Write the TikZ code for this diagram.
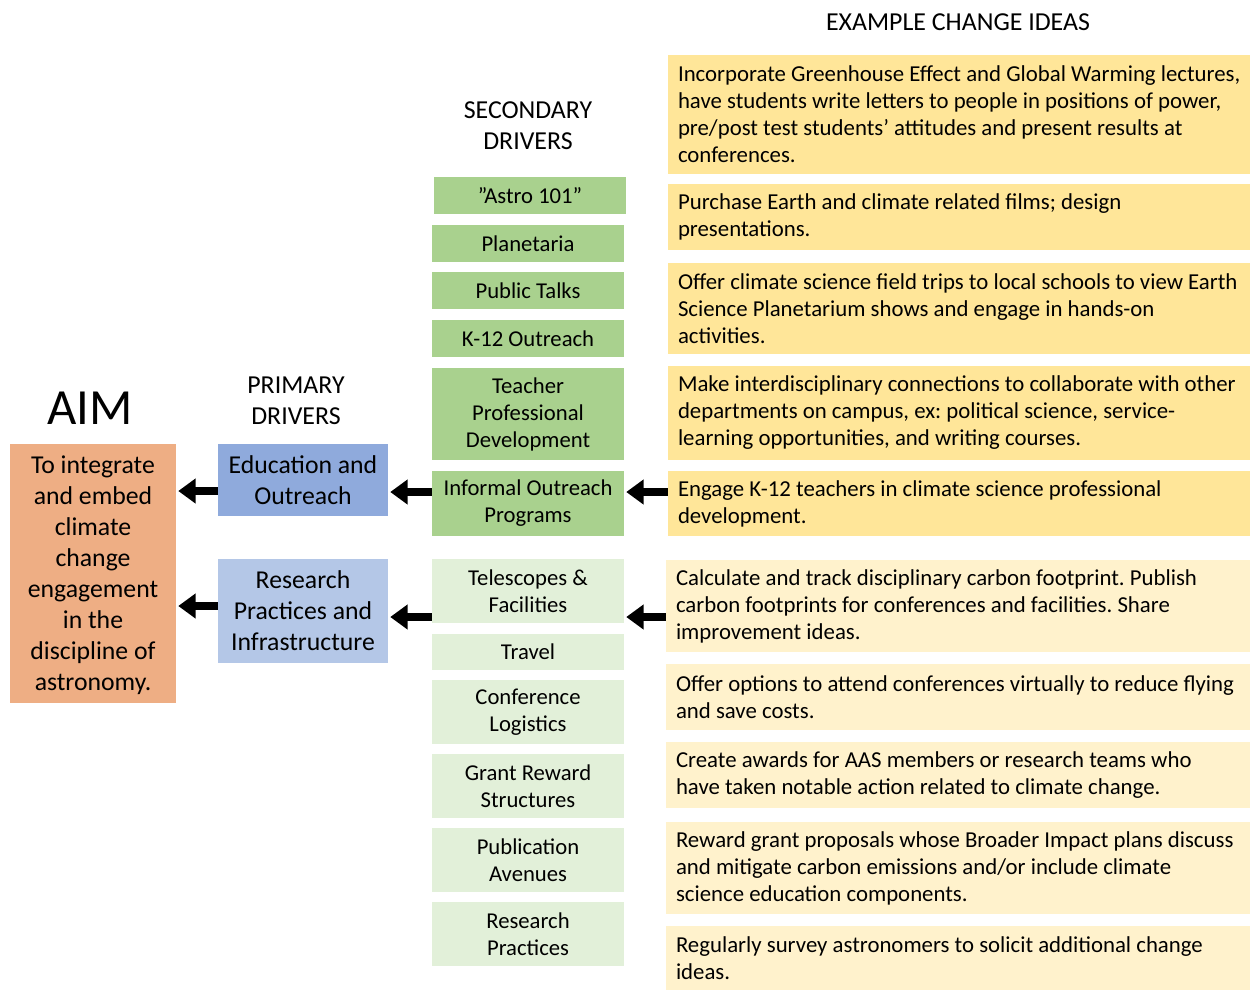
\documentclass[tikz,border=0pt]{standalone}
\usepackage{fontspec}
\setmainfont{Carlito}
\usetikzlibrary{arrows.meta}
\definecolor{aimc}{HTML}{EEAE84}
\definecolor{pri1}{HTML}{8FAADC}
\definecolor{pri2}{HTML}{B4C7E7}
\definecolor{sec1}{HTML}{A9D18E}
\definecolor{sec2}{HTML}{E2F0D9}
\definecolor{idea1}{HTML}{FFE699}
\definecolor{idea2}{HTML}{FFF2CC}
\frenchspacing
\begin{document}
\begin{tikzpicture}[x=0.75pt,y=-0.75pt,
  bigfont/.style={font=\fontsize{19.3}{23.25}\selectfont},
  smallfont/.style={font=\fontsize{17}{20.25}\selectfont},
  ideafont/.style={font=\fontsize{17.1}{20.25}\selectfont},
  rect/.style n args={4}{minimum width={(#3-#1)*0.75pt}, minimum height={(#4-#2)*0.75pt}, at={({(#1+#3)/2},{(#2+#4)/2})}},
  aimbox/.style={inner sep=0pt, fill=aimc, align=center, text depth=0pt, bigfont},
  pribox/.style={inner sep=0pt, fill=#1, align=center, bigfont},
  secbox/.style={inner sep=0pt, fill=#1, align=center, smallfont},
  ideabox/.style={inner sep=0pt, fill=#1},
  ideatext/.style={inner sep=0pt, anchor=west, align=left, ideafont},
  header/.style={inner sep=0pt, align=center, font=\fontsize{19.4}{23.25}\selectfont},
  bigarrow/.style={line width=6pt, -{Triangle[length=13pt,width=18pt]}, shorten >=1.5pt}]
\useasboundingbox (0,0) rectangle (1250,990);
% headers
\node[header] (h1) at (958,22) {EXAMPLE CHANGE IDEAS};
\node[header] (h2) at (528,126) {SECONDARY\\DRIVERS};
\node[header] (h3) at (296,401) {PRIMARY\\DRIVERS};
\node[inner sep=0pt, font=\fontsize{38}{42}\selectfont] (aimt) at (90,408) {AIM};
% aim
\node[aimbox, rect={10}{444}{176}{703}] (aim) {To integrate\\and embed\\climate\\change\\engagement\\in the\\discipline of\\astronomy.};
% primary
\node[pribox=pri1, rect={218}{444}{388}{516}] (edu) {Education and\\Outreach};
\node[pribox=pri2, rect={218}{559}{388}{663}] (res) {Research\\Practices and\\Infrastructure};
% secondary
\node[secbox=sec1, rect={434}{177}{626}{214}] (s1) {”Astro 101”};
\node[secbox=sec1, rect={432}{225}{624}{262}] (s2) {Planetaria};
\node[secbox=sec1, rect={432}{272}{624}{309}] (s3) {Public Talks};
\node[secbox=sec1, rect={432}{320}{624}{357}] (s4) {K-12 Outreach};
\node[secbox=sec1, rect={432}{368}{624}{460}] (s5) {Teacher\\Professional\\Development};
\node[secbox=sec1, rect={432}{471}{624}{536}] (s6) {Informal Outreach\\Programs};
\node[secbox=sec2, rect={432}{559}{624}{623}] (t1) {Telescopes \&\\Facilities};
\node[secbox=sec2, rect={432}{634}{624}{670}] (t2) {Travel};
\node[secbox=sec2, rect={432}{680}{624}{744}] (t3) {Conference\\Logistics};
\node[secbox=sec2, rect={432}{754}{624}{818}] (t4) {Grant Reward\\Structures};
\node[secbox=sec2, rect={432}{828}{624}{892}] (t5) {Publication\\Avenues};
\node[secbox=sec2, rect={432}{902}{624}{966}] (t6) {Research\\Practices};
% idea boxes
\node[ideabox=idea1, rect={668}{55}{1250}{174}] (i1) {};
\node[ideabox=idea1, rect={668}{184}{1250}{250}] (i2) {};
\node[ideabox=idea1, rect={668}{263}{1250}{354}] (i3) {};
\node[ideabox=idea1, rect={668}{366}{1250}{460}] (i4) {};
\node[ideabox=idea1, rect={668}{471}{1250}{536}] (i5) {};
\node[ideabox=idea2, rect={666}{560}{1250}{652}] (j1) {};
\node[ideabox=idea2, rect={666}{664}{1250}{730}] (j2) {};
\node[ideabox=idea2, rect={666}{742}{1250}{808}] (j3) {};
\node[ideabox=idea2, rect={666}{822}{1250}{914}] (j4) {};
\node[ideabox=idea2, rect={666}{926}{1250}{990}] (j5) {};
% idea texts
\node[ideatext] (i1t) at ([xshift=7.5pt]i1.west) {Incorporate Greenhouse Effect and Global Warming lectures,\\have students write letters to people in positions of power,\\pre/post test students’ attitudes and present results at\\conferences.};
\node[ideatext] (i2t) at ([xshift=7.5pt]i2.west) {Purchase Earth and climate related films; design\\presentations.};
\node[ideatext] (i3t) at ([xshift=7.5pt]i3.west) {Offer climate science field trips to local schools to view Earth\\Science Planetarium shows and engage in hands-on\\activities.};
\node[ideatext] (i4t) at ([xshift=7.5pt]i4.west) {Make interdisciplinary connections to collaborate with other\\departments on campus, ex: political science, service-\\learning opportunities, and writing courses.};
\node[ideatext] (i5t) at ([xshift=7.5pt]i5.west) {Engage K-12 teachers in climate science professional\\development.};
\node[ideatext] (j1t) at ([xshift=7.5pt]j1.west) {Calculate and track disciplinary carbon footprint. Publish\\carbon footprints for conferences and facilities. Share\\improvement ideas.};
\node[ideatext] (j2t) at ([xshift=7.5pt]j2.west) {Offer options to attend conferences virtually to reduce flying\\and save costs.};
\node[ideatext] (j3t) at ([xshift=7.5pt]j3.west) {Create awards for AAS members or research teams who\\have taken notable action related to climate change.};
\node[ideatext] (j4t) at ([xshift=7.5pt]j4.west) {Reward grant proposals whose Broader Impact plans discuss\\and mitigate carbon emissions and/or include climate\\science education components.};
\node[ideatext] (j5t) at ([xshift=7.5pt]j5.west) {Regularly survey astronomers to solicit additional change\\ideas.};
% arrows
\coordinate (ya) at (0,491);
\coordinate (yb) at (0,606);
\coordinate (yc) at (0,492);
\coordinate (yd) at (0,617);
\draw[bigarrow] (edu.west|-ya) -- (aim.east|-ya);
\draw[bigarrow] (res.west|-yb) -- (aim.east|-yb);
\draw[bigarrow] (s6.west|-yc) -- (edu.east|-yc);
\draw[bigarrow] (t1.west|-yd) -- (res.east|-yd);
\draw[bigarrow] (i5.west|-yc) -- (s6.east|-yc);
\draw[bigarrow] (j1.west|-yd) -- (t1.east|-yd);
\end{tikzpicture}
\end{document}
